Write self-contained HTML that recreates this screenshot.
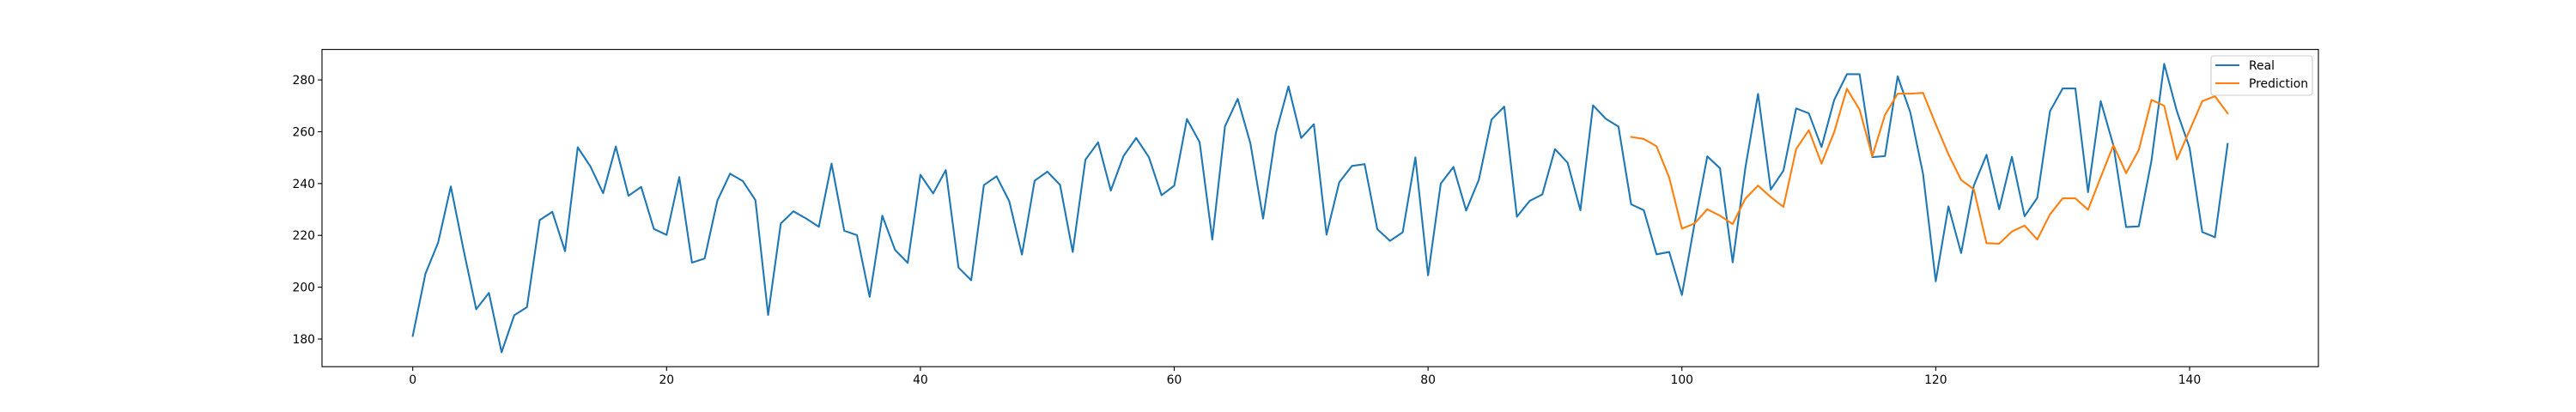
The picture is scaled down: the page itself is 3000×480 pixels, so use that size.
<!DOCTYPE html>
<html><head><meta charset="utf-8"><style>
html,body{margin:0;padding:0;background:#fff;}
svg{display:block;font-family:"DejaVu Sans","Liberation Sans",sans-serif;}
</style></head><body>
<svg id="chart" width="3000" height="480" viewBox="0 0 3000 480" xmlns="http://www.w3.org/2000/svg">
<rect width="3000" height="480" fill="#fff"/>
<g id="plot"></g>
</svg>
<script>
const realValues = [181.2,205.2,217.2,238.9,214.5,191.5,197.8,174.9,189.2,192.3,225.9,229.1,213.9,254.0,246.6,236.3,254.3,235.3,238.7,222.5,220.2,242.5,209.5,211.1,233.4,243.8,241.0,233.6,189.3,224.6,229.3,226.5,223.3,247.7,221.8,220.1,196.3,227.6,214.4,209.4,243.4,236.2,245.2,207.6,202.7,239.4,242.8,233.2,212.6,241.1,244.6,239.5,213.6,249.2,255.9,237.3,250.6,257.6,250.2,235.5,239.2,264.9,256.0,218.4,262.1,272.7,255.5,226.5,259.4,277.5,257.6,262.9,220.3,240.5,246.8,247.5,222.4,217.9,221.2,250.1,204.6,240.0,246.4,229.6,241.5,264.7,269.7,227.2,233.3,235.8,253.3,248.0,229.7,270.2,265.0,262.0,232.0,229.7,212.7,213.6,197.0,224.6,250.5,245.9,209.6,246.1,274.6,237.7,245.0,269.0,267.1,254.1,272.3,282.2,282.2,250.2,250.6,281.4,267.4,243.7,202.3,231.2,213.2,239.2,251.1,230.1,250.3,227.4,234.5,267.9,276.7,276.7,236.7,271.8,254.7,223.2,223.5,248.9,286.2,267.9,253.8,221.3,219.3,255.3];
const predStart = 96;
const predValues = [258.0,257.2,254.4,242.3,222.6,224.6,230.1,227.6,224.4,234.2,239.2,234.8,231.0,253.3,260.6,247.7,259.9,276.6,268.5,250.5,266.5,274.7,274.7,275.0,262.9,251.3,241.4,237.8,217.0,216.8,221.5,223.8,218.4,228.1,234.3,234.3,229.9,242.5,254.8,244.0,253.0,272.3,270.0,249.3,260.5,271.8,273.7,267.1];
const xTicks = [0,20,40,60,80,100,120,140];
const yTicks = [180,200,220,240,260,280];
const legendLabels = ["Real","Prediction"];

const NS="http://www.w3.org/2000/svg";
const L=375,R=2700,T=57.6,B=427.2;
const xMin=-7.15,xMax=150.15;
const allV=realValues.concat(predValues);
const vMin=Math.min(...allV),vMax=Math.max(...allV),pad=(vMax-vMin)*0.05;
const yMin=vMin-pad,yMax=vMax+pad;
function xs(v){return L+(v-xMin)/(xMax-xMin)*(R-L);}
function ys(v){return B-(v-yMin)/(yMax-yMin)*(B-T);}
const g=document.getElementById('plot');
function mk(tag,attrs,parent){const e=document.createElementNS(NS,tag);for(const k in attrs)e.setAttribute(k,attrs[k]);(parent||g).appendChild(e);return e;}

xTicks.forEach(t=>{
  const x=xs(t);
  const tk=mk('line',{x1:x,x2:x,y1:B,y2:B+4.9,stroke:'#000','stroke-width':1.1});
  
  
  const tx=mk('text',{x:x,y:B+20,'text-anchor':'middle','font-size':13.9,fill:'#000'});
  tx.textContent=t;
  
  
});
yTicks.forEach(t=>{
  const y=ys(t);
  const tk=mk('line',{x1:L-4.9,x2:L,y1:y,y2:y,stroke:'#000','stroke-width':1.1});
  
  
  const tx=mk('text',{x:L-8,y:y+5,'text-anchor':'end','font-size':13.9,fill:'#000'});
  tx.textContent=t;
  
  
});

const rp=realValues.map((v,i)=>xs(i).toFixed(2)+','+ys(v).toFixed(2)).join(' ');
const real=mk('polyline',{points:rp,fill:'none',stroke:'#1f77b4','stroke-width':2.1,'stroke-linejoin':'round','stroke-linecap':'square'});


const pp=predValues.map((v,i)=>xs(predStart+i).toFixed(2)+','+ys(v).toFixed(2)).join(' ');
const pred=mk('polyline',{points:pp,fill:'none',stroke:'#ff7f0e','stroke-width':2.1,'stroke-linejoin':'round','stroke-linecap':'square'});



const frame=mk('rect',{x:L,y:T,width:R-L,height:B-T,fill:'none',stroke:'#000','stroke-width':1.1});



const lg=mk('g',{});


mk('rect',{x:2575,y:65,width:118,height:46,rx:3,fill:'#fff','fill-opacity':0.8,stroke:'#ccc','stroke-width':1.1},lg);
const colors=['#1f77b4','#ff7f0e'];
legendLabels.forEach((lab,i)=>{
  const y=76+i*21;
  const e=mk('g',{},lg);
  
  
  mk('line',{x1:2580,x2:2608,y1:y,y2:y,stroke:colors[i],'stroke-width':2.1},e);
  const t=mk('text',{x:2619,y:y+5,'font-size':13.9,fill:'#000'},e);
  t.textContent=lab;
});
</script>
</body></html>
